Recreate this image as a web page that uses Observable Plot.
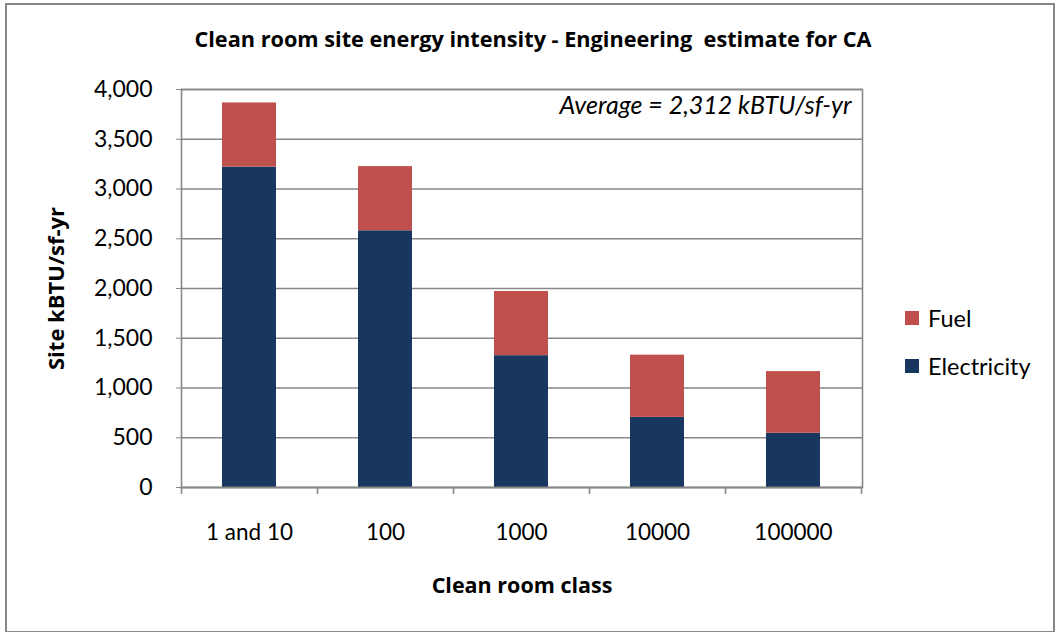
<!DOCTYPE html>
<html>
<head>
<meta charset="utf-8">
<script src="https://cdn.jsdelivr.net/npm/d3@7"></script>
<script src="https://cdn.jsdelivr.net/npm/@observablehq/plot@0.6"></script>
<style>
  html, body { margin: 0; padding: 0; background: #fff; }
  #wrap { position: relative; width: 1057px; height: 632px; overflow: hidden; }
  #border { position: absolute; left: 5px; top: 3px; width: 1046px; height: 626px; border: 2px solid #888; }
  #title { position: absolute; left: 0; width: 1066px; top: 24px; text-align: center; white-space: pre;
           font-family: "Open Sans", sans-serif; font-weight: bold; font-size: 21.7px; color: #000; }
  #legend { position: absolute; left: 905px; top: 306px; font-family: Lato, sans-serif; font-size: 23.5px; color: #000; }
  .item { display: flex; align-items: center; height: 24px; margin-bottom: 24px; }
  .sw { width: 14px; height: 14px; margin-right: 9px; flex: none; }
  #chart { position: absolute; left: 0; top: 0; }
</style>
</head>
<body>
<div id="wrap">
  <div id="border"></div>
  <div id="title">Clean room site energy intensity - Engineering  estimate for CA</div>
  <div id="chart"></div>
  <div id="legend"></div>
</div>
<script>
const categories = ["1 and 10", "100", "1000", "10000", "100000"];
const electricity = [3220, 2580, 1325, 705, 545];
const fuel = [645, 645, 645, 625, 620];
const seriesNames = ["Electricity", "Fuel"];
const seriesColors = ["#17375e", "#c0504d"];
const yTicks = [0, 500, 1000, 1500, 2000, 2500, 3000, 3500, 4000];
const averageLabel = "Average = 2,312 kBTU/sf-yr";
const yTitle = "Site kBTU/sf-yr";
const xTitle = "Clean room class";

const data = [];
categories.forEach((c, i) => {
  data.push({cls: c, series: "Electricity", value: electricity[i]});
  data.push({cls: c, series: "Fuel", value: fuel[i]});
});

const step = 136;
const chart = Plot.plot({
  width: 1057,
  height: 632,
  marginLeft: 181,
  marginRight: 195,
  marginTop: 89,
  marginBottom: 145,
  style: {fontFamily: "Lato, sans-serif", fontSize: "22px", color: "#000", background: "transparent", overflow: "visible"},
  x: {domain: categories, paddingInner: 0.6, paddingOuter: 0.3, label: null},
  y: {domain: [0, 4000], label: null},
  color: {domain: seriesNames, range: seriesColors},
  marks: [
    Plot.gridY(yTicks, {stroke: "#888", strokeOpacity: 1, strokeWidth: 1.6}),
    Plot.barY(data, {x: "cls", y: "value", fill: "series", order: seriesNames}),
    Plot.ruleY([0], {stroke: "#888", strokeWidth: 1.6}),
    Plot.frame({stroke: "#888", strokeWidth: 1.6}),
    Plot.axisY({ticks: yTicks, tickFormat: d3.format(","), tickSize: 5, tickPadding: 24, stroke: "#888", fontSize: 23, label: null}),
    Plot.axisX({tickSize: 0, tickPadding: 37, fontSize: 22.5, label: null}),
    Plot.ruleX(categories, {x: d => d, dx: -step / 2, y1: 0, y2: -70, stroke: "#888", strokeWidth: 1.6}),
    Plot.ruleX([categories[categories.length - 1]], {x: d => d, dx: step / 2, y1: 0, y2: -70, stroke: "#888", strokeWidth: 1.6}),
    Plot.text([averageLabel], {frameAnchor: "top-right", dx: -11, dy: 7, fontStyle: "italic", fontSize: 25, fill: "#000"}),
    Plot.text([yTitle], {frameAnchor: "left", textAnchor: "middle", rotate: -90, dx: -125, fontWeight: "bold", fontSize: 22, fontFamily: "Open Sans, sans-serif", fill: "#000"}),
    Plot.text([xTitle], {frameAnchor: "bottom", dy: 105, fontWeight: "bold", fontSize: 21.5, fontFamily: "Open Sans, sans-serif", fill: "#000"})
  ]
});
document.getElementById("chart").appendChild(chart);

const legend = document.getElementById("legend");
["Fuel", "Electricity"].forEach(name => {
  const item = document.createElement("div");
  item.className = "item";
  const sw = document.createElement("div");
  sw.className = "sw";
  sw.style.background = seriesColors[seriesNames.indexOf(name)];
  const label = document.createElement("span");
  label.textContent = name;
  item.appendChild(sw);
  item.appendChild(label);
  legend.appendChild(item);
});
</script>
</body>
</html>
